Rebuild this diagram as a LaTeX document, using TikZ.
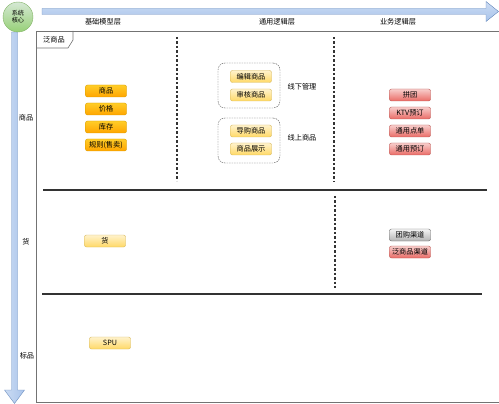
\documentclass[tikz,border=0pt]{standalone}
\usepackage{fontspec}
\newfontfamily\cjk{Noto Sans CJK SC}
\usetikzlibrary{calc,shapes}
\definecolor{arrowfill}{HTML}{A9C4EB}
\definecolor{arrowdraw}{HTML}{6C8EBF}
\definecolor{orgtop}{HTML}{FFCD28}
\definecolor{orgbot}{HTML}{FFA500}
\definecolor{orgdraw}{HTML}{D79B00}
\definecolor{yeltop}{HTML}{FFF2CC}
\definecolor{yelbot}{HTML}{FFD966}
\definecolor{yeldraw}{HTML}{D6B656}
\definecolor{redtop}{HTML}{F8CECC}
\definecolor{redbot}{HTML}{EA6B66}
\definecolor{reddraw}{HTML}{B85450}
\definecolor{grytop}{HTML}{F5F5F5}
\definecolor{grybot}{HTML}{B3B3B3}
\definecolor{grydraw}{HTML}{666666}
\definecolor{grntop}{HTML}{D5E8D4}
\definecolor{grnbot}{HTML}{97D077}
\definecolor{grndraw}{HTML}{82B366}

\begin{document}
\begin{tikzpicture}[x=1pt, y=-1pt, font=\cjk\fontsize{7.2}{8}\selectfont,
bx/.style={draw, rounded corners=2pt, minimum width=41pt, minimum height=12pt, inner sep=0},
ob/.style={bx, draw=orgdraw, top color=orgtop, bottom color=orgbot},
yb/.style={bx, draw=yeldraw, top color=yeltop, bottom color=yelbot},
rb/.style={bx, draw=reddraw, top color=redtop, bottom color=redbot},
gb/.style={bx, draw=grydraw, top color=grytop, bottom color=grybot},
grp/.style={draw=black!70, dash pattern=on 1.5pt off 1pt, rounded corners=7pt, minimum width=62pt, minimum height=45pt},
sep/.style={draw=black!80, line width=1.2pt},
vsep/.style={draw=black!80, line width=1.2pt, dash pattern=on 2.5pt off 2pt}]
	\useasboundingbox (0,0) rectangle (499,404);
	% axes
	\draw[arrowdraw, top color=arrowfill!60, bottom color=arrowfill, line width=0.4pt]
		(42,8.5) -- (486,8.5) -- (486,1.5) -- (498.5,11.5) -- (486,21.5) -- (486,14.5) -- (42,14.5) -- cycle;
	\draw[arrowdraw, left color=arrowfill!60, right color=arrowfill, line width=0.4pt]
		(11.5,32) -- (17.5,32) -- (17.5,390) -- (24.5,390) -- (14.5,403.5) -- (4.5,390) -- (11.5,390) -- cycle;
	\node[circle, draw=grndraw, top color=grntop, bottom color=grnbot, minimum size=30pt, inner sep=0, align=center, font=\cjk\fontsize{6.2}{6.8}\selectfont] at (18,17) (core) {系统\\核心};
	% frame
	\draw[black!55, line width=0.8pt] (36,31) rectangle (499,402.5);
	\draw[black!55, line width=0.6pt] (36,48) -- (68,48) -- (73,40) -- (73,31);
	\node at (54,40) (tab) {泛商品};
	% headers
	\node at (103,22) (h1) {基础模型层};
	\node at (277,22) (h2) {通用逻辑层};
	\node at (398,22) (h3) {业务逻辑层};
	\node at (26,118) (r1) {商品};
	\node at (26,242) (r2) {货};
	\node at (27,356) (r3) {标品};
	% separators
	\draw[sep] (43,190) -- (487,190);
	\draw[sep] (42,294) -- (482,294);
	\draw[vsep] (177,37) -- (177,181);
	\draw[vsep] (334,37) -- (334,182);
	\draw[vsep] (335,196) -- (335,288);
	% base model
	\node[ob] at (106,91) (sp) {商品};
	\node[ob] at (106,109) (jg) {价格};
	\node[ob] at (106,127) (kc) {库存};
	\node[ob] at (106,145) (gz) {规则(售卖)};
	\node[yb] at (105,241) (huo) {货};
	\node[yb] at (110,343) (spu) {SPU};
	% common logic
	\node[grp] at (249,85.5) (g1) {};
	\node[grp] at (249,140.5) (g2) {};
	\node[yb] at (251,76.5) (bj) {编辑商品};
	\node[yb] at (251,95) (sh) {审核商品};
	\node[yb] at (251,131) (dg) {导购商品};
	\node[yb] at (251,149) (zs) {商品展示};
	\node at (302,87) (xx) {线下管理};
	\node at (302,138) (xs) {线上商品};
	% business logic
	\node[rb] at (410,95) (pt) {拼团};
	\node[rb] at (410,113) (ktv) {KTV预订};
	\node[rb] at (410,131) (dd) {通用点单};
	\node[rb] at (410,149) (yd) {通用预订};
	\node[gb] at (410,235) (tg) {团购渠道};
	\node[rb] at (410,252) (fq) {泛商品渠道};
\end{tikzpicture}
\end{document}
